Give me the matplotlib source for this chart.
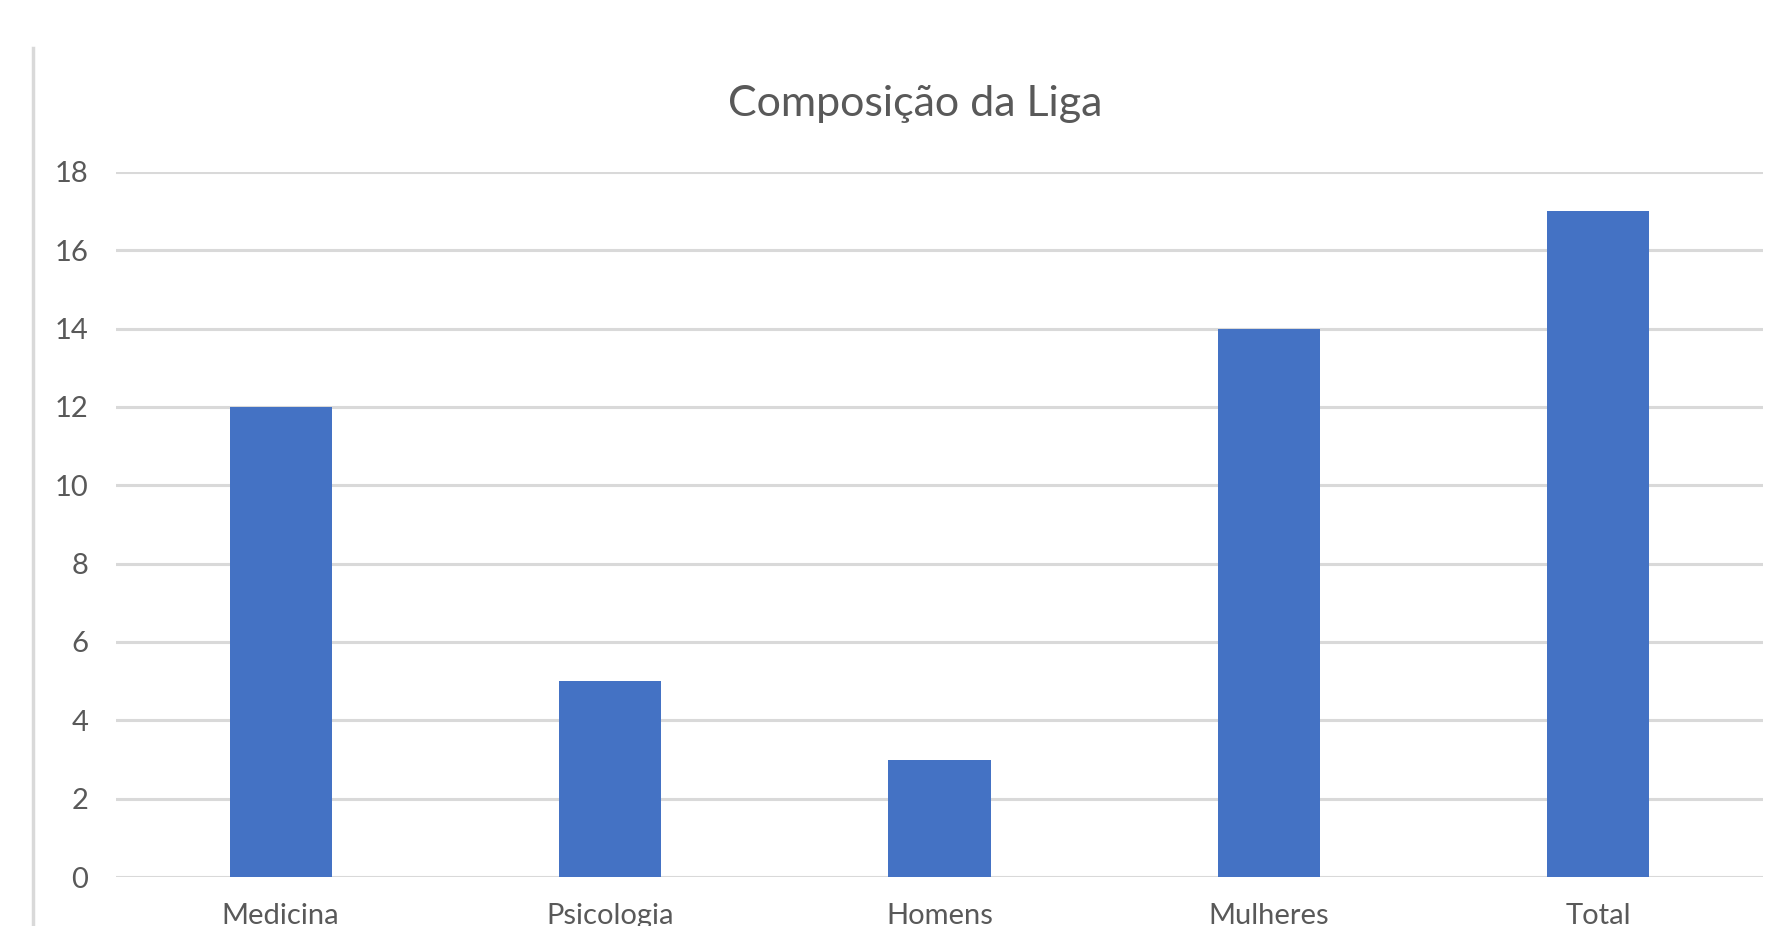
import matplotlib
matplotlib.use("Agg")
import matplotlib.pyplot as plt
from matplotlib.lines import Line2D

categories = ["Medicina", "Psicologia", "Homens", "Mulheres", "Total"]
values = [12, 5, 3, 14, 17]
yticks = [0, 2, 4, 6, 8, 10, 12, 14, 16, 18]
title = "Composição da Liga"

plt.rcParams['font.family'] = ['Lato', 'DejaVu Sans']
text_color = "#595959"
grid_color = "#d9d9d9"
bar_color = "#4472C4"

fig = plt.figure(figsize=(17.78, 9.26), dpi=100)
ax = fig.add_axes([0.0652, 0.0529, 0.9264, 0.7614])

x = list(range(len(categories)))
ax.bar(x, values, width=0.31, color=bar_color, zorder=3)
ax.set_xlim(-0.5, len(categories) - 0.5)
ax.set_ylim(0, 18)
ax.set_yticks(yticks)
ax.set_yticklabels([str(v) for v in yticks])
ax.set_xticks(x)
ax.set_xticklabels(categories)
ax.tick_params(axis='y', length=0, pad=20, labelsize=21, labelcolor=text_color)
ax.tick_params(axis='x', length=0, pad=19, labelsize=21, labelcolor=text_color)
ax.grid(axis='y', color=grid_color, linewidth=2.2, zorder=0)
for s in ax.spines.values():
    s.set_visible(False)

fig.text(0.5146, 0.888, title, ha='center', va='center', fontsize=31, color=text_color)

fig.add_artist(Line2D([0.0186, 0.0186], [0.0, 0.948], transform=fig.transFigure,
                      color=grid_color, linewidth=2.5))

fig.savefig("out.png", dpi=100)
